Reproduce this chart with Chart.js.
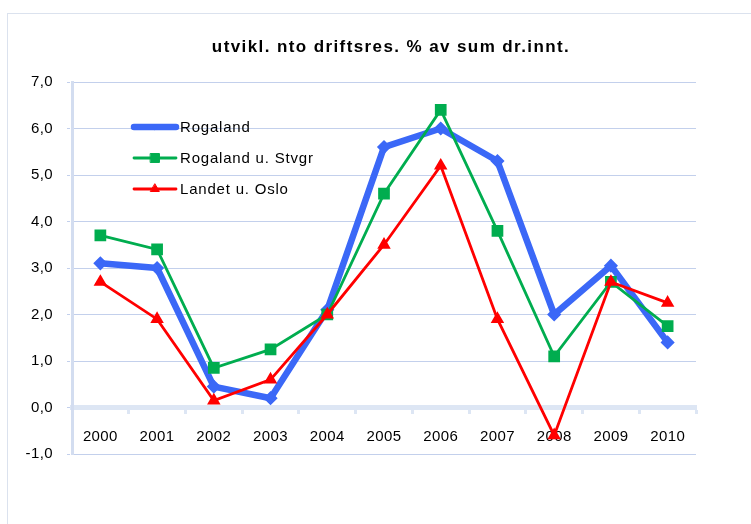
<!DOCTYPE html>
<html>
<head>
<meta charset="utf-8">
<script src="https://cdn.jsdelivr.net/npm/chart.js@4.4.0/dist/chart.umd.min.js"></script>
<style>
  html, body { margin: 0; padding: 0; background: #fff; overflow: hidden; }
  #wrap { position: relative; width: 751px; height: 524px; }
  #frame { position: absolute; left: 7px; top: 13px; width: 800px; height: 600px; border: 1px solid #dbe2ee; }
  canvas { position: absolute; left: 0; top: 0; }
</style>
</head>
<body>
<div id="wrap">
  <div id="frame"></div>
  <canvas id="grafico" width="751" height="524"></canvas>
</div>
<script>
const years = ['2000', '2001', '2002', '2003', '2004', '2005', '2006', '2007', '2008', '2009', '2010'];
const rogaland = [3.1, 3.0, 0.45, 0.2, 2.1, 5.6, 6.0, 5.3, 2.0, 3.05, 1.4];
const rogalandUStvgr = [3.7, 3.4, 0.85, 1.25, 2.0, 4.6, 6.4, 3.8, 1.1, 2.7, 1.75];
const landetUOslo = [2.7, 1.9, 0.15, 0.6, 2.0, 3.5, 5.2, 1.9, -0.6, 2.7, 2.25];
const yTicks = [-1, 0, 1, 2, 3, 4, 5, 6, 7];
const tittel = 'utvikl. nto driftsres. % av sum dr.innt.';

const grafx = document.getElementById('grafico').getContext('2d');
const fontFam = '"Liberation Sans", Arial, sans-serif';

// a bit of letter spacing like the excel render
const spacing = {
  id: 'spacing',
  beforeUpdate(chart) { chart.ctx.letterSpacing = '0.4px'; },
  beforeDraw(chart) { chart.ctx.letterSpacing = '0.4px'; }
};

// title + legend drawn inside the plot like the original
const tegnLegende = {
  id: 'tegnLegende',
  afterDraw(chart) {
    const ctx = chart.ctx;
    ctx.save();
    ctx.fillStyle = '#000';
    ctx.letterSpacing = '1.4px';
    ctx.font = 'bold 17px ' + fontFam;
    ctx.textAlign = 'center';
    ctx.textBaseline = 'middle';
    ctx.fillText(tittel, 391, 47);

    ctx.letterSpacing = '0.8px';
    ctx.font = '15px ' + fontFam;
    ctx.textAlign = 'left';
    const rows = [127, 158, 189];
    chart.data.datasets.forEach((ds, i) => {
      const y = rows[i];
      ctx.strokeStyle = ds.borderColor;
      ctx.lineWidth = ds.borderWidth;
      ctx.lineCap = 'round';
      ctx.beginPath();
      ctx.moveTo(134, y);
      ctx.lineTo(176, y);
      ctx.stroke();
      ctx.fillStyle = ds.pointBackgroundColor;
      ctx.strokeStyle = ds.pointBorderColor;
      ctx.lineWidth = 1;
      Chart.helpers.drawPoint(ctx, { pointStyle: ds.pointStyle, radius: ds.pointRadius, borderWidth: 1 }, 155, y);
      ctx.fillStyle = '#000';
      ctx.fillText(ds.label, 180, y + 1);
    });
    ctx.restore();
  }
};

const grafico = new Chart(grafx, {
  type: 'line',
  data: {
    labels: years,
    datasets: [{
      label: 'Rogaland',
      data: rogaland,
      borderColor: '#3b68f7',
      backgroundColor: '#3b68f7',
      pointBackgroundColor: '#3b68f7',
      pointBorderColor: '#3b68f7',
      borderWidth: 6.5,
      pointStyle: 'rectRot',
      pointRadius: 2.5,
      borderJoinStyle: 'round',
      borderCapStyle: 'round',
      tension: 0,
      order: 2
    }, {
      label: 'Rogaland u. Stvgr',
      data: rogalandUStvgr,
      borderColor: '#00ad4f',
      backgroundColor: '#00ad4f',
      pointBackgroundColor: '#00ad4f',
      pointBorderColor: '#00ad4f',
      borderWidth: 2.8,
      pointStyle: 'rect',
      pointRadius: 6.3,
      tension: 0,
      order: 1
    }, {
      label: 'Landet u. Oslo',
      data: landetUOslo,
      borderColor: '#ff0000',
      backgroundColor: '#ff0000',
      pointBackgroundColor: '#ff0000',
      pointBorderColor: '#ff0000',
      borderWidth: 2.8,
      pointStyle: 'triangle',
      pointRadius: 5,
      tension: 0,
      order: 0
    }]
  },
  options: {
    responsive: false,
    animation: false,
    layout: { padding: { left: 0, top: 82, right: 55, bottom: 70 } },
    plugins: {
      legend: { display: false },
      title: { display: false },
      tooltip: { enabled: false }
    },
    scales: {
      x: {
        type: 'category',
        position: { y: 0 },
        offset: true,
        grid: {
          display: true,
          drawOnChartArea: false,
          offset: true,
          drawTicks: true,
          tickLength: 4,
          tickColor: '#dde6f4',
          tickWidth: 3
        },
        border: { display: true, color: '#dde6f4', width: 5 },
        ticks: {
          color: '#000',
          font: { family: fontFam, size: 15 },
          padding: 16,
          maxRotation: 0,
          autoSkip: false
        }
      },
      y: {
        min: -1,
        max: 7,
        afterFit(axis) { axis.width = 72; },
        afterBuildTicks(axis) { axis.ticks = yTicks.map(v => ({ value: v })); },
        grid: {
          color: '#c3d0ec',
          lineWidth: 1,
          borderDash: [3, 3],
          tickLength: 5,
          tickBorderDash: [3, 3],
          tickColor: '#c3d0ec'
        },
        border: { display: true, color: '#d3ddf0', width: 3 },
        ticks: {
          color: '#000',
          font: { family: fontFam, size: 15 },
          padding: 14,
          callback: v => v.toFixed(1).replace('.', ',')
        }
      }
    }
  },
  plugins: [spacing, tegnLegende]
});
</script>
</body>
</html>
